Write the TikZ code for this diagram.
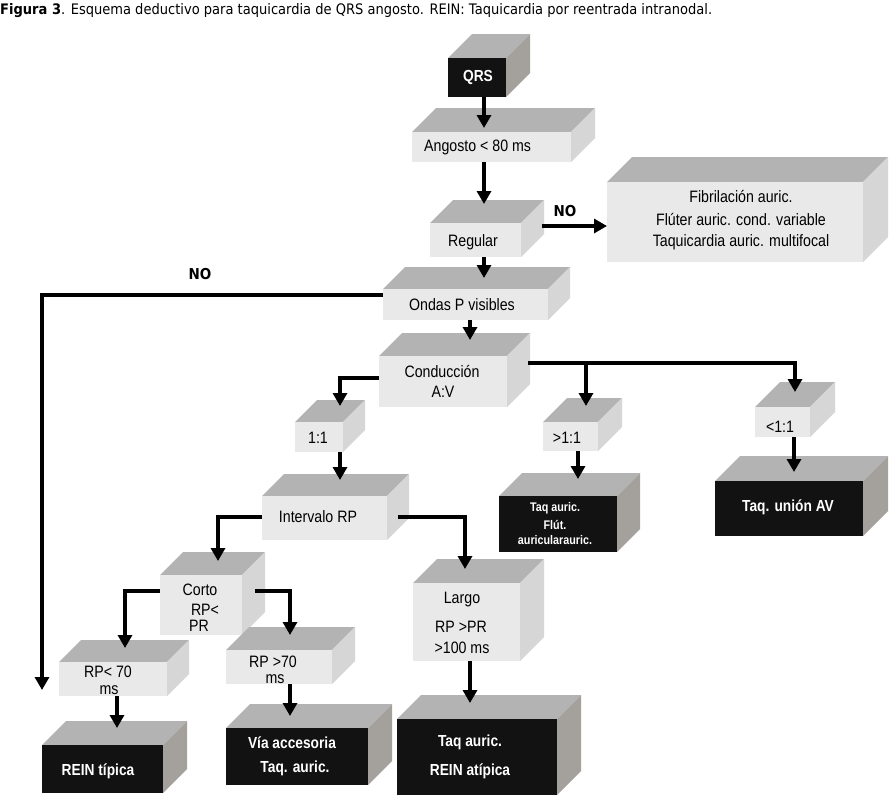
\documentclass[tikz,border=0pt]{standalone}
\usepackage{fontspec}
\newfontfamily\cf[FakeStretch=0.86]{Liberation Sans}
\newfontfamily\tf[FakeStretch=0.9]{DejaVu Sans}
\usetikzlibrary{arrows.meta,calc}
\definecolor{topc}{HTML}{B3B3B3}
\definecolor{lfr}{HTML}{E9E9E9}
\definecolor{lsd}{HTML}{D6D6D6}
\definecolor{kfr}{HTML}{121212}
\definecolor{ksd}{HTML}{A4A19D}
\tikzset{
  lfront/.style={fill=lfr, inner sep=0pt, outer sep=0pt},
  kfront/.style={fill=kfr, inner sep=0pt, outer sep=0pt},
  lside/.style={fill=lsd},
  kside/.style={fill=ksd},
  topface/.style={fill=topc},
  ltxt/.style={font=\cf\fontsize{16.5}{20}\selectfont, text=black, inner sep=0pt},
  ktxt/.style={font=\cf\bfseries\fontsize{16}{20}\selectfont, text=white, inner sep=0pt},
  ksmall/.style={font=\cf\bfseries\fontsize{12.5}{16}\selectfont, text=white, inner sep=0pt},
  nolab/.style={font=\tf\bfseries\fontsize{15}{17}\selectfont, inner sep=0pt},
  arr/.style={line width=4.3pt, -{Triangle[length=13pt,width=14pt]}},
}
% #1 name, #2 x1, #3 y1, #4 x2, #5 y2, #6 depth, #7 kind (l or k)
\newcommand{\cubebox}[7]{%
  \pgfmathsetmacro\cbw{#4-#2}%
  \pgfmathsetmacro\cbh{#5-#3}%
  \fill[topface] (#2,#3) -- (#2+#6,#3-#6) -- (#4+#6,#3-#6) -- (#4,#3) -- cycle;
  \fill[#7side] (#4,#3) -- (#4+#6,#3-#6) -- (#4+#6,#5-#6) -- (#4,#5) -- cycle;
  \node[#7front, minimum width=\cbw pt, minimum height=\cbh pt, anchor=north west] (#1) at (#2,#3) {};
}
\begin{document}
\begin{tikzpicture}[x=1pt,y=-1pt]
\fill[white] (0,0) rectangle (892,798);
\useasboundingbox (0,0) rectangle (892,798);

\node[anchor=west, font=\tf\fontsize{14.5}{16}\selectfont, inner sep=0pt] (title) at (0,11)
  {\textbf{Figura 3}. Esquema deductivo para taquicardia de QRS angosto. REIN: Taquicardia por reentrada intranodal.};

% boxes
\cubebox{qrs}{448}{58}{506}{97}{24}{k}
\cubebox{ang}{412}{132}{571}{162}{24}{l}
\cubebox{reg}{430}{223}{521}{257}{23}{l}
\cubebox{fib}{607}{182}{863}{262}{25}{l}
\cubebox{ond}{383}{289}{548}{320}{22}{l}
\cubebox{cond}{379}{356}{507}{407}{23}{l}
\cubebox{one}{295}{422}{343}{452}{22}{l}
\cubebox{gt}{543}{422}{598}{451}{24}{l}
\cubebox{lt}{755}{407}{810}{437}{25}{l}
\cubebox{taqa}{499}{496}{617}{552}{23}{k}
\cubebox{union}{715}{481}{863}{536}{25}{k}
\cubebox{int}{262}{496}{387}{540}{22}{l}
\cubebox{corto}{160}{575}{242}{635}{23}{l}
\cubebox{largo}{413}{583}{520}{661}{24}{l}
\cubebox{rpl}{59}{662}{167}{696}{22}{l}
\cubebox{rpg}{226}{650}{332}{684}{23}{l}
\cubebox{rein}{42}{745}{163}{793}{24}{k}
\cubebox{via}{226}{728}{368}{785}{24}{k}
\cubebox{atip}{397}{719}{557}{795}{24}{k}

% texts
\node[ktxt] (tqrs) at (478,77) {QRS};
\node[ltxt, anchor=west] (tang) at (424,147) {Angosto < 80 ms};
\node[ltxt] (treg) at (473,242) {Regular};
\node[ltxt] (tfib1) at (741,197) {Fibrilación auric.};
\node[ltxt] (tfib2) at (741,220) {Flúter auric. cond. variable};
\node[ltxt] (tfib3) at (741,242) {Taquicardia auric. multifocal};
\node[ltxt] (tond) at (462,305) {Ondas P visibles};
\node[ltxt] (tcond1) at (442,372) {Conducción};
\node[ltxt] (tcond2) at (443,392) {A:V};
\node[ltxt] (tone) at (318,438) {1:1};
\node[ltxt] (tgt) at (567,438) {>1:1};
\node[ltxt] (tlt) at (780,427) {<1:1};
\node[ksmall] (ttaqa1) at (555,508) {Taq auric.};
\node[ksmall] (ttaqa2) at (555,525) {Flút.};
\node[ksmall] (ttaqa3) at (555,540) {auricularauric.};
\node[ktxt] (tunion) at (788,507) {Taq. unión AV};
\node[ltxt] (tint) at (318,517) {Intervalo RP};
\node[ltxt] (tcorto1) at (200,590) {Corto};
\node[ltxt] (tcorto2) at (205,610) {RP<};
\node[ltxt] (tcorto3) at (199,626) {PR};
\node[ltxt] (tlargo1) at (462,600) {Largo};
\node[ltxt] (tlargo2) at (461,627) {RP >PR};
\node[ltxt] (tlargo3) at (462,648) {>100 ms};
\node[ltxt] (trpl1) at (108,672) {RP< 70};
\node[ltxt] (trpl2) at (109,690) {ms};
\node[ltxt] (trpg1) at (273,662) {RP >70};
\node[ltxt] (trpg2) at (275,679) {ms};
\node[ktxt] (trein) at (98,771) {REIN típica};
\node[ktxt] (tvia1) at (292,743) {Vía accesoria};
\node[ktxt] (tvia2) at (295,768) {Taq. auric.};
\node[ktxt] (tatip1) at (470,742) {Taq auric.};
\node[ktxt] (tatip2) at (470,771) {REIN atípica};

\node[nolab] (no1) at (565,211) {NO};
\node[nolab] (no2) at (200,274) {NO};

% connectors
\coordinate (noend) at (42,690);
\coordinate (condR) at ($(cond.east)+(21,-18.5)$);
\coordinate (ltTip) at ($(lt.north)+(12.5,-15)$);
\coordinate (gtTip) at ($(gt.north)+(15.5,-16)$);

\draw[arr] ($(qrs.south)+(7,0)$) -- ($(ang.north)+(-7.5,-4)$);
\draw[arr] ($(ang.south)+(-7.5,0)$) -- ($(reg.north)+(8.5,-19)$);
\draw[arr] ($(reg.east)+(21,-14)$) -- ($(fib.west)+(0,4)$);
\draw[arr] ($(reg.south)+(8.5,0)$) -- ($(ond.north)+(18.5,-11)$);
\draw[arr] ($(ond.south)+(4.5,0)$) -- ($(cond.north)+(27,-16)$);
\draw[arr] ($(ond.west)+(0,-9.5)$) -| (noend);
\draw[arr] ($(cond.west)+(0,-3.5)$) -| ($(one.north)+(21,-16)$);
\draw[arr] (condR) -| (ltTip);
\draw[arr] (condR -| gtTip) -- (gtTip);
\draw[arr] ($(one.south)+(21,0)$) -- ($(int.north)+(15.5,-16)$);
\draw[arr] ($(int.west)+(0,-1)$) -| ($(corto.north)+(17,-14)$);
\draw[arr] ($(int.east)+(11,-1)$) -| ($(largo.north)+(-1.5,-14)$);
\draw[arr] ($(gt.south)+(7.5,0)$) -- ($(taqa.north)+(20,-17)$);
\draw[arr] ($(lt.south)+(11.5,0)$) -- ($(union.north)+(5,-9)$);
\draw[arr] ($(corto.west)+(0,-14)$) -| ($(rpl.north)+(12,-14)$);
\draw[arr] ($(corto.east)+(13,-14)$) -| ($(rpg.north)+(11,-15)$);
\draw[arr] ($(rpl.south)+(4,0)$) -- ($(rein.north)+(14.5,-17)$);
\draw[arr] ($(rpg.south)+(11,0)$) -- ($(via.north)+(-7,-12)$);
\draw[arr] ($(largo.south)+(3.5,0)$) -- ($(atip.north)+(-7,-16)$);
\end{tikzpicture}
\end{document}
